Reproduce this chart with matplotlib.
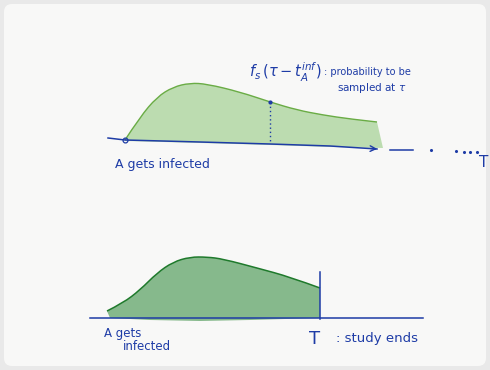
import numpy as np
import matplotlib
matplotlib.use("Agg")
import matplotlib.pyplot as plt
from matplotlib.path import Path
from matplotlib.patches import PathPatch, FancyBboxPatch

# sketch, in pixel coords (y grows downward)
top_curve_x = [125, 140, 157, 173, 190, 207, 240, 270, 297, 323, 350, 377]
top_curve_y = [140, 117, 97, 87, 83, 84, 92, 102, 110, 115, 119, 122]
top_axis_x = [108, 125, 200, 270, 330, 377]
top_axis_y = [138, 140, 142, 144, 146, 149]
top_fill_base_x = [125, 200, 270, 330, 383]
top_fill_base_y = [141, 143, 145, 147, 148]

bot_curve_x = [107, 123, 140, 157, 173, 190, 207, 223, 257, 290, 320]
bot_curve_y = [311, 303, 290, 273, 262, 257, 257, 259, 268, 277, 288]
bot_axis_x = [90, 423]
bot_axis_y = [318, 318]
bot_fill_base_x = [110, 150, 200, 250, 320]
bot_fill_base_y = [318, 320, 321, 320, 318]

sample_x = 270
study_end_x = 320

dots_x = [431, 456, 464, 470, 477]
dots_y = [150, 151, 152, 152, 152]

BLUE = "#1e3ca6"
GREEN_LINE_TOP = "#6aac45"
GREEN_LINE_BOT = "#1f7a2c"
GREEN_FILL_TOP = "#b2d8a4"
GREEN_FILL_BOT = "#72ae79"


def smooth(xs, ys):
    # quadratic bezier through the midpoints, read points as control points
    pts = list(zip(xs, ys))
    verts = [pts[0]]
    codes = [Path.MOVETO]
    for i in range(1, len(pts) - 1):
        mid = ((pts[i][0] + pts[i + 1][0]) / 2, (pts[i][1] + pts[i + 1][1]) / 2)
        if i == len(pts) - 2:
            mid = pts[-1]
        verts += [pts[i], mid]
        codes += [Path.CURVE3, Path.CURVE3]
    return verts, codes


def area(xs, ys, bx, by):
    verts, codes = smooth(xs, ys)
    for x, y in zip(bx[::-1], by[::-1]):
        verts.append((x, y))
        codes.append(Path.LINETO)
    verts.append(verts[0])
    codes.append(Path.CLOSEPOLY)
    return Path(verts, codes)


fig = plt.figure(figsize=(4.9, 3.7), dpi=100)
fig.patch.set_facecolor("#e9e9e9")
ax = fig.add_axes([0, 0, 1, 1])
ax.set_xlim(0, 490)
ax.set_ylim(370, 0)
ax.axis("off")

# paper
paper = FancyBboxPatch((4, 4), 482, 362, boxstyle="round,pad=0,rounding_size=8",
                       facecolor="#f8f8f7", edgecolor="none", zorder=0)
ax.add_patch(paper)

# ---- top panel ----
ax.add_patch(PathPatch(area(top_curve_x, top_curve_y, top_fill_base_x, top_fill_base_y),
                       facecolor=GREEN_FILL_TOP, edgecolor="none", alpha=0.85, zorder=1))
v, c = smooth(top_curve_x, top_curve_y)
ax.add_patch(PathPatch(Path(v, c), facecolor="none", edgecolor=GREEN_LINE_TOP, lw=1.0, zorder=3))
ax.plot(top_axis_x, top_axis_y, color=BLUE, lw=1.1, zorder=4)
ax.annotate("", xy=(380, 149), xytext=(368, 148.5),
            arrowprops=dict(arrowstyle="->", color=BLUE, lw=1.0), zorder=4)
ax.plot([125], [140], marker="o", ms=3.5, mfc="none", mec=BLUE, mew=0.9, zorder=5)
ax.plot([sample_x, sample_x], [102, 143], color=BLUE, lw=1.0, ls=(0, (1, 2)), zorder=4)
ax.plot([sample_x], [102], marker="o", ms=2, color=BLUE, zorder=5)

ax.plot([390, 413], [150, 150], color=BLUE, lw=1.1)
ax.scatter(dots_x, dots_y, s=1.5, color=BLUE)
ax.text(479, 167, "T", color=BLUE, fontsize=11, fontfamily="DejaVu Sans", va="baseline")

ax.text(115, 168, "A gets infected", color=BLUE, fontsize=9, fontfamily="DejaVu Sans",
        va="baseline")
ax.text(249, 77, r"$f_s\,(\tau - t_A^{inf})$", color=BLUE,
        fontsize=10.5, fontfamily="DejaVu Sans", va="baseline")
ax.text(324, 75, ": probability to be", color=BLUE,
        fontsize=7, fontfamily="DejaVu Sans", va="baseline")
ax.text(337, 91, r"sampled at $\tau$", color=BLUE, fontsize=7.5,
        fontfamily="DejaVu Sans", va="baseline")

# ---- bottom panel ----
ax.add_patch(PathPatch(area(bot_curve_x, bot_curve_y, bot_fill_base_x, bot_fill_base_y),
                       facecolor=GREEN_FILL_BOT, edgecolor="none", alpha=0.85, zorder=1))
v, c = smooth(bot_curve_x, bot_curve_y)
ax.add_patch(PathPatch(Path(v, c), facecolor="none", edgecolor=GREEN_LINE_BOT, lw=1.1, zorder=3))
ax.plot(bot_axis_x, bot_axis_y, color=BLUE, lw=1.1, zorder=4)
ax.plot([study_end_x, study_end_x], [272, 319], color=BLUE, lw=1.1, zorder=4)

ax.text(104, 337, "A gets", color=BLUE, fontsize=8.5, fontfamily="DejaVu Sans",
        va="baseline")
ax.text(123, 350, "infected", color=BLUE, fontsize=8.5, fontfamily="DejaVu Sans",
        va="baseline")
ax.text(309, 344, "T", color=BLUE, fontsize=13, fontfamily="DejaVu Sans", va="baseline")
ax.text(336, 342, ": study ends", color=BLUE, fontsize=9.5, fontfamily="DejaVu Sans",
        va="baseline")

fig.savefig("out.png", dpi=100, facecolor=fig.get_facecolor())
